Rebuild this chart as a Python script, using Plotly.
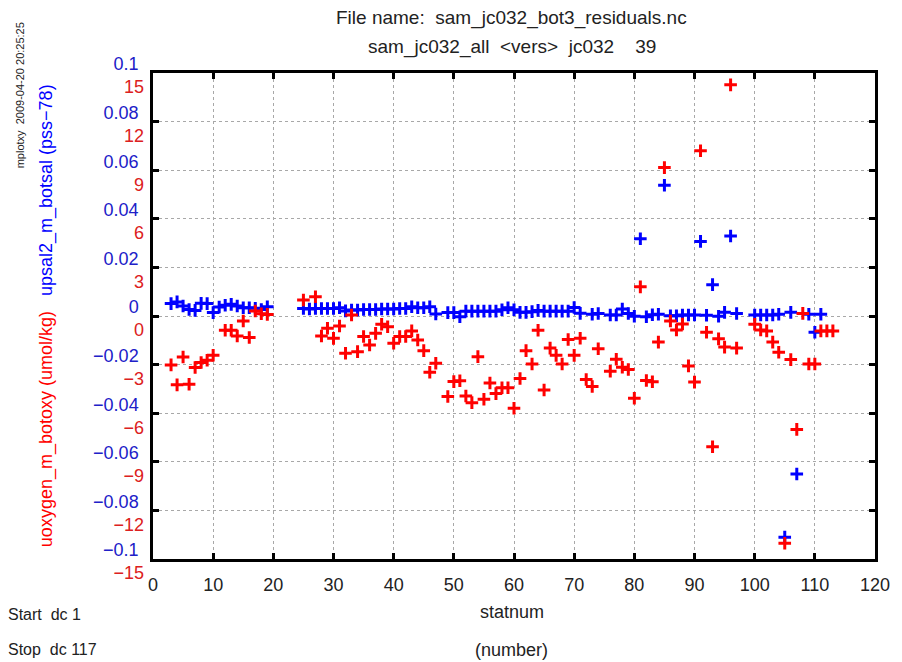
import plotly.graph_objects as go

# ---- data ----
sal_stat = [3, 4, 5, 6, 7, 8, 9, 10, 11, 12, 13, 14, 15, 16, 17, 18, 19,
            25, 26, 27, 28, 29, 30, 31, 32, 33, 34, 35, 36, 37, 38, 39, 40, 41, 42, 43, 44, 45, 46, 47,
            49, 50, 51, 52, 53, 54, 55, 56, 57, 58, 59, 60, 61, 62, 63, 64, 65, 66, 67, 68, 69, 70, 71,
            73, 74, 76, 77, 78, 79, 80, 81, 82, 83, 84, 85, 86, 87, 88, 89, 90, 91, 92, 93, 94, 95, 96, 97,
            100, 101, 102, 103, 104, 105, 106, 107, 109, 110, 111]
sal_res = [0.0051, 0.0058, 0.0041, 0.0027, 0.0023, 0.0052, 0.0051, 0.0014, 0.0037, 0.0044, 0.0048, 0.0041,
           0.0034, 0.0034, 0.0032, 0.0027, 0.0038,
           0.0031, 0.0029, 0.0031, 0.0031, 0.0031, 0.0031, 0.0034, 0.0021, 0.0025, 0.0025, 0.0027, 0.0027,
           0.0027, 0.0029, 0.0029, 0.0029, 0.0031, 0.0031, 0.0038, 0.0034, 0.0034, 0.0038, 0.0008,
           0.0014, 0.0014, -0.0003, 0.0020, 0.0020, 0.0020, 0.0020, 0.0020, 0.0020, 0.0026, 0.0034, 0.0026,
           0.0015, 0.0015, 0.0018, 0.0023, 0.0020, 0.0020, 0.0020, 0.0020, 0.0020, 0.0035, 0.0011,
           0.0007, 0.0010, 0.0004, 0.0004, 0.0029, 0.0010, -0.0001, 0.0318, -0.0003, 0.0005, 0.0007, 0.0538,
           0.0001, 0.0001, 0.0004, 0.0004, 0.0004, 0.0307, 0.0003, 0.0129, -0.0001, 0.0015, 0.0329, 0.0010,
           0.0004, 0.0004, 0.0004, 0.0004, 0.0007, -0.0910, 0.0015, -0.0650, 0.0007, -0.0067, 0.0007]

oxy_stat = [3, 4, 5, 6, 7, 8, 9, 10, 12, 13, 14, 15, 16, 17, 18, 19,
            25, 27, 28, 29, 30, 31, 32, 33, 34, 35, 36, 37, 38, 39, 40, 41, 42, 43, 44, 45, 46, 47,
            49, 50, 51, 52, 53, 54, 55, 56, 57, 58, 59, 60, 61, 62, 63, 64, 65, 66, 67, 68, 69, 70, 71,
            72, 73, 74, 76, 77, 78, 79, 80, 81, 82, 83, 84, 85, 86, 87, 88, 89, 90, 91, 92, 93, 94, 95, 96, 97,
            100, 101, 102, 103, 104, 105, 106, 107, 108, 109, 110, 111, 112, 113]
oxy_res = [-3.02, -4.25, -2.53, -4.21, -3.18, -2.87, -2.73, -2.42, -0.88, -0.88, -1.23, -0.31, -1.33, 0.31,
           0.14, 0.10,
           0.99, 1.19, -1.23, -0.76, -1.38, -0.62, -2.30, 0.06, -2.20, -1.27, -1.79, -1.07, -0.51, -0.66,
           -1.68, -1.27, -1.27, -0.92, -1.48, -2.14, -3.47, -2.92,
           -4.97, -4.05, -4.00, -4.94, -5.35, -2.51, -5.14, -4.14, -4.79, -4.43, -4.43, -5.69, -3.86, -2.14,
           -2.96, -0.88, -4.57, -1.98, -2.43, -2.96, -1.45, -2.43, -1.37,
           -3.92, -4.35, -2.02, -3.41, -2.67, -3.16, -3.30, -5.08, 1.80, -3.98, -4.06, -1.61, 9.16, -0.31,
           -0.86, -0.49, -3.08, -4.08, 10.20, -1.00, -8.07, -1.41, -1.92, 14.27, -1.98,
           -0.51, -0.86, -0.92, -1.61, -2.24, -14.03, -2.69, -7.00, 0.16, -2.96, -2.96, -0.92, -0.92, -0.92]

x_ticks = [0, 10, 20, 30, 40, 50, 60, 70, 80, 90, 100, 110, 120]
sal_ticks = [-0.1, -0.08, -0.06, -0.04, -0.02, 0, 0.02, 0.04, 0.06, 0.08, 0.1]
sal_ticktext = ["\u22120.1", "\u22120.08", "\u22120.06", "\u22120.04", "\u22120.02", "0",
                "0.02", "0.04", "0.06", "0.08", "0.1"]
oxy_ticks = [-15, -12, -9, -6, -3, 0, 3, 6, 9, 12, 15]
oxy_ticktext = ["\u221215", "\u221212", "\u22129", "\u22126", "\u22123", "0", "3", "6", "9", "12", "15"]

BLUE = "#0000ff"
RED = "#ff0000"
BLUE_TXT = "#2020c8"
RED_TXT = "#dc2020"
FONT = "Liberation Sans, Arial, sans-serif"

fig = go.Figure()
fig.add_trace(go.Scatter(x=oxy_stat, y=oxy_res, mode="markers", yaxis="y2",
                         marker=dict(symbol="cross-thin", size=9, line=dict(width=3, color=RED)),
                         showlegend=False))
fig.add_trace(go.Scatter(x=sal_stat, y=sal_res, mode="markers", yaxis="y",
                         marker=dict(symbol="cross-thin", size=9, line=dict(width=3, color=BLUE)),
                         showlegend=False))

fig.update_layout(
    width=902, height=662,
    margin=dict(l=153, r=20, t=73, b=103),
    paper_bgcolor="white", plot_bgcolor="white",
    font=dict(family=FONT, size=18, color="black"),
    xaxis=dict(range=[0, 120], tickvals=x_ticks, showline=True, linecolor="black", linewidth=2.5,
               mirror="ticks", ticks="inside", ticklen=6, tickwidth=2.5, tickcolor="black",
               showgrid=True, gridcolor="#a8a8a8", griddash="dot", gridwidth=1, zeroline=False,
               tickfont=dict(size=18, color="#222222"), ticklabelstandoff=8),
    yaxis=dict(range=[-0.1, 0.1], tickvals=sal_ticks, ticktext=sal_ticktext, showline=True,
               linecolor="black", linewidth=2.5, mirror="ticks", ticks="inside", ticklen=6,
               tickwidth=2.5, tickcolor="black", showgrid=True, gridcolor="#a8a8a8", griddash="dot",
               gridwidth=1, zeroline=False, tickfont=dict(size=18, color=BLUE_TXT),
               ticklabelshift=-9, ticklabelstandoff=8),
    yaxis2=dict(range=[-15, 15], tickvals=oxy_ticks, ticktext=oxy_ticktext, overlaying="y",
                side="left", showline=False, ticks="", showgrid=False, zeroline=False,
                tickfont=dict(size=18, color=RED_TXT), ticklabelshift=14, ticklabelstandoff=8),
)

ylab = ("<span style='color:%s'>uoxygen_m_botoxy (umol/kg)</span>&nbsp;&nbsp;&nbsp;"
        "<span style='color:%s'>upsal2_m_botsal (pss\u221278)</span>") % (RED, BLUE)

ann = [
    dict(text="File name:&nbsp;&nbsp;sam_jc032_bot3_residuals.nc", x=0.4966, y=1.113,
         font=dict(size=19, color="#222222")),
    dict(text="sam_jc032_all&nbsp;&nbsp;&lt;vers&gt;&nbsp;&nbsp;jc032&nbsp;&nbsp;&nbsp;&nbsp;39",
         x=0.4966, y=1.053, font=dict(size=19, color="#222222")),
    dict(text="statnum", x=0.4966, y=-0.109, font=dict(size=18, color="#222222")),
    dict(text="(number)", x=0.4966, y=-0.187, font=dict(size=18, color="#222222")),
    dict(text="Start&nbsp;&nbsp;dc 1", x=-0.203, y=-0.115, xanchor="left",
         font=dict(size=16, color="#222222")),
    dict(text="Stop&nbsp;&nbsp;dc 117", x=-0.203, y=-0.187, xanchor="left",
         font=dict(size=16, color="#222222")),
    dict(text="mplotxy&nbsp;&nbsp;2009-04-20 20:25:25", x=-0.185, y=0.955, textangle=-90,
         font=dict(size=11, color="#222222")),
    dict(text=ylab, x=-0.148, y=0.5, textangle=-90, font=dict(size=18, color=RED)),
]
for a in ann:
    base = dict(xref="paper", yref="paper", showarrow=False, xanchor="center", yanchor="middle")
    base.update(a)
    fig.add_annotation(**base)

fig.write_html("out.html")
